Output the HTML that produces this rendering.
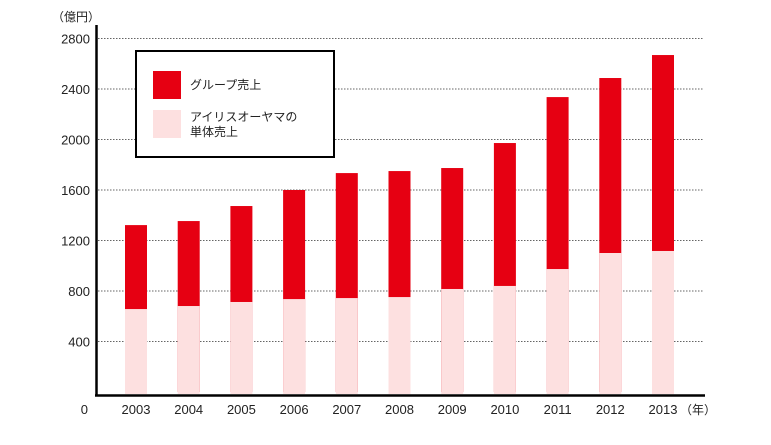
<!DOCTYPE html>
<html><head><meta charset="utf-8"><style>
body{margin:0;background:#fff;}
svg{display:block;font-family:"Liberation Sans","Noto Sans CJK JP",sans-serif;}
</style></head><body>
<svg id="chart" width="771" height="445" viewBox="0 0 771 445">
<g id="grid"></g><g id="bars"></g><g id="labels"></g>
<text x="52" y="21" font-size="12" fill="#222">（億円）</text>
<text x="680" y="414" font-size="12" fill="#222">（年）</text>
<text x="88" y="414" font-size="13" text-anchor="end" fill="#222">0</text>
<line x1="96.5" y1="25" x2="96.5" y2="396" stroke="#000" stroke-width="2.5"/>
<line x1="95" y1="395.5" x2="705" y2="395.5" stroke="#000" stroke-width="2.5"/>
<g>
<rect x="136" y="51" width="198" height="106" fill="#fff" stroke="#000" stroke-width="2"/>
<rect x="153" y="71" width="28" height="28" fill="#e60012"/>
<text x="190" y="89" font-size="12" fill="#222">グループ売上</text>
<rect x="153" y="110" width="28" height="28" fill="#fde0e0"/>
<text x="190" y="121" font-size="12" fill="#222">アイリスオーヤマの</text>
<text x="190" y="136" font-size="12" fill="#222">単体売上</text>
</g>
</svg>
<script>
const years=["2003","2004","2005","2006","2007","2008","2009","2010","2011","2012","2013"];
const groupSales=[1322,1354,1473,1600,1734,1750,1774,1972,2336,2487,2669];
const singleSales=[657,681,713,736,744,752,816,840,974,1101,1117];
const yTicks=[400,800,1200,1600,2000,2400,2800];
const NS="http://www.w3.org/2000/svg";
const y=v=>392-v*50.5/400;
const x=i=>125+i*52.7;
const grid=document.getElementById('grid'),bars=document.getElementById('bars'),labels=document.getElementById('labels');
function mk(tag,attrs,parent){const e=document.createElementNS(NS,tag);for(const k in attrs)e.setAttribute(k,attrs[k]);parent.appendChild(e);return e;}
yTicks.forEach(t=>{
  const l=mk('line',{x1:98,x2:703,y1:y(t),y2:y(t),stroke:'#333','stroke-width':0.8,'stroke-dasharray':'1.5,1.5'},grid);
  
  
  const tx=mk('text',{x:90,y:y(t)+5,'font-size':13,'text-anchor':'end',fill:'#222'},labels);
  tx.textContent=t;
  
  
});
years.forEach((yr,i)=>{
  const g=mk('rect',{x:x(i),y:y(groupSales[i]),width:22,height:y(0)-y(groupSales[i]),fill:'#e60012'},bars);
  
  
  const s=mk('rect',{x:x(i),y:y(singleSales[i]),width:22,height:y(0)-y(singleSales[i])+2,fill:'#fde0e0'},bars);
  
  
  const t=mk('text',{x:x(i)+11,y:414,'font-size':13,'text-anchor':'middle',fill:'#222'},labels);
  t.textContent=yr;
  
  
});
</script>
</body></html>
